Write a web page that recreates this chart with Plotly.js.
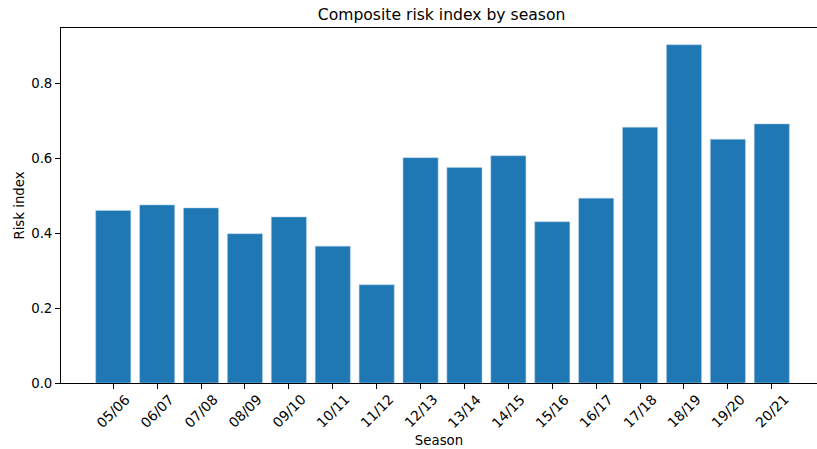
<!DOCTYPE html>
<html>
<head>
<meta charset="utf-8">
<script src="https://cdn.plot.ly/plotly-3.0.1.min.js"></script>
<style>html,body{margin:0;padding:0;background:#fff;}#chart{width:817px;height:449px;}</style>
</head>
<body>
<div id="chart"></div>
<script>
const seasons = ["05/06","06/07","07/08","08/09","09/10","10/11","11/12","12/13","13/14","14/15","15/16","16/17","17/18","18/19","19/20","20/21"];
const riskIndex = [0.460,0.475,0.467,0.398,0.443,0.365,0.262,0.601,0.575,0.606,0.430,0.493,0.682,0.902,0.650,0.691];
const yTickVals = [0, 0.2, 0.4, 0.6, 0.8];
const yTickText = ["0.0","0.2","0.4","0.6","0.8"];

const FAM = "DejaVu Sans";
const trace = {
  type: "bar",
  x: seasons,
  y: riskIndex,
  width: 0.8,
  marker: {color: "#1f77b4", line: {color: "rgba(180,210,235,0.9)", width: 0.6}},
  hoverinfo: "x+y"
};
const tickAnns = seasons.map(s => ({
  x: s, xref: "x", y: 0, yref: "paper",
  text: s, showarrow: false, textangle: -45,
  xanchor: "center", yanchor: "top", yshift: -8,
  borderpad: 0, borderwidth: 0,
  font: {family: FAM, size: 13.8, color: "#000"}
}));
const layout = {
  width: 817, height: 449,
  margin: {l: 61, r: 0, t: 28, b: 66},
  paper_bgcolor: "#fff", plot_bgcolor: "#fff",
  font: {family: FAM, color: "#000", size: 13.3},
  showlegend: false,
  title: {text: "Composite risk index by season", font: {family: FAM, size: 15.6, color: "#000"}, x: 0.5405, xanchor: "center", y: 0.967, yanchor: "middle"},
  xaxis: {
    type: "category", range: [-1.19, 16.03],
    showline: true, linecolor: "#000", linewidth: 1, mirror: true,
    ticks: "outside", ticklen: 5, tickcolor: "#000", tickwidth: 1,
    tickangle: -45, tickfont: {family: FAM, size: 13.3, color: "rgba(0,0,0,0)"},
    showgrid: false, zeroline: false,
    title: {text: "Season", font: {family: FAM, size: 13.3, color: "#000"}, standoff: 4}
  },
  yaxis: {
    range: [0, 0.9467],
    tickvals: yTickVals, ticktext: yTickText,
    showline: true, linecolor: "#000", linewidth: 1,
    ticks: "outside", ticklen: 5, tickcolor: "#000", tickwidth: 1,
    tickfont: {family: FAM, size: 13.3, color: "#000"},
    showgrid: false, zeroline: false,
    title: {text: "Risk index", font: {family: FAM, size: 13.3, color: "#000"}, standoff: 3}
  },
  annotations: tickAnns,
  bargap: 0.2
};
Plotly.newPlot("chart", [trace], layout, {staticPlot: true, displayModeBar: false});
</script>
</body>
</html>
